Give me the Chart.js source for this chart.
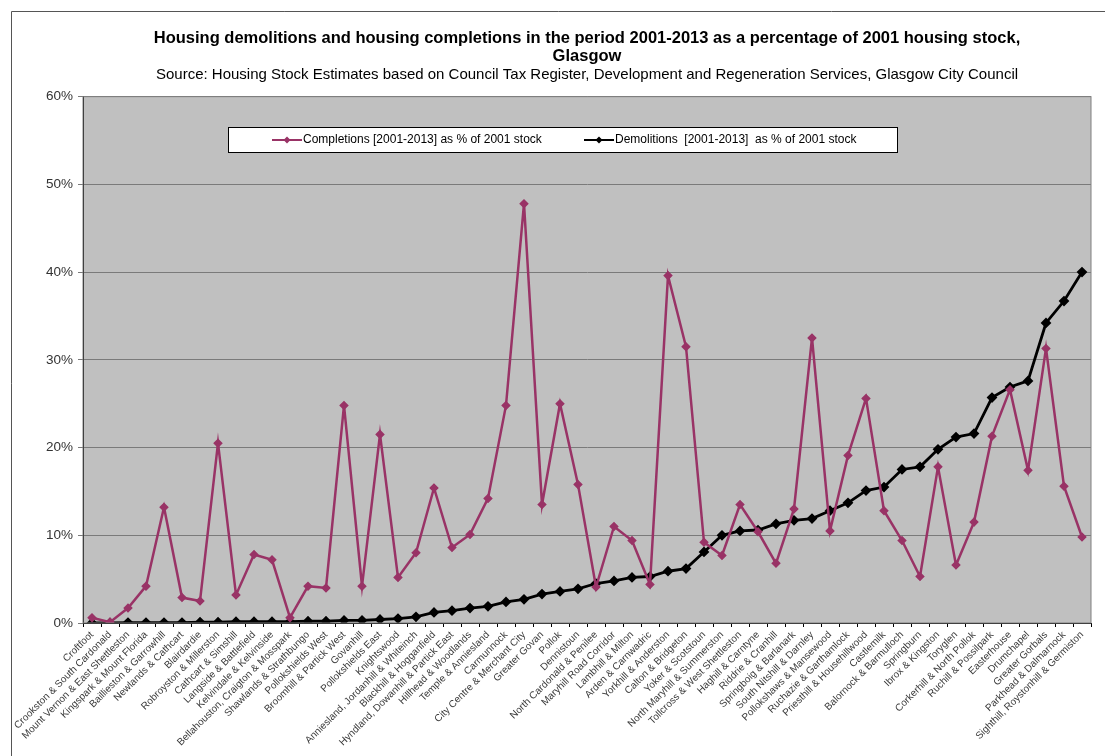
<!DOCTYPE html>
<html lang="en">
<head>
<meta charset="UTF-8">
<title>Housing demolitions and completions, Glasgow</title>
<script src="https://cdnjs.cloudflare.com/ajax/libs/Chart.js/4.4.1/chart.umd.min.js"></script>
<style>
  html, body { margin: 0; padding: 0; background: #fff; }
  #wrap { width: 1105px; height: 756px; position: relative; }
</style>
</head>
<body>
<div id="wrap"><canvas id="myChart"></canvas></div>
<script>
// neighbourhoods, in the order shown on the x axis
const areas = [
  'Croftfoot', 'Crookston & South Cardonald', 'Mount Vernon & East Shettleston',
  'Kingspark & Mount Florida', 'Baillieston & Garrowhill', 'Newlands & Cathcart',
  'Blairdardie', 'Robroyston & Millerston', 'Cathcart & Simshill',
  'Langside & Battlefield', 'Kelvindale & Kelvinside', 'Bellahouston, Craigton & Mosspark',
  'Shawlands & Strathbungo', 'Pollokshields West', 'Broomhill & Partick West',
  'Govanhill', 'Pollokshields East', 'Knightswood',
  'Anniesland, Jordanhill & Whiteinch', 'Blackhill & Hogganfield', 'Hyndland, Dowanhill & Partick East',
  'Hillhead & Woodlands', 'Temple & Anniesland', 'Carmunnock',
  'City Centre & Merchant City', 'Greater Govan', 'Pollok',
  'Dennistoun', 'North Cardonald & Penilee', 'Maryhill Road Corridor',
  'Lambhill & Milton', 'Arden & Carnwadric', 'Yorkhill & Anderston',
  'Calton & Bridgeton', 'Yoker & Scotstoun', 'North Maryhill & Summerston',
  'Tollcross & West Shettleston', 'Haghill & Carntyne', 'Riddrie & Cranhill',
  'Springboig & Barlanark', 'South Nitshill & Darnley', 'Pollokshaws & Mansewood',
  'Ruchazie & Garthamlock', 'Priesthill & Househillwood', 'Castlemilk',
  'Balornock & Barmulloch', 'Springburn', 'Ibrox & Kingston',
  'Toryglen', 'Corkerhill & North Pollok', 'Ruchill & Possilpark',
  'Easterhouse', 'Drumchapel', 'Greater Gorbals',
  'Parkhead & Dalmarnock', 'Sighthill, Roystonhill & Germiston'
];

// % of 2001 stock
const completions = [
  0.6, 0.1, 1.7, 4.2, 13.2, 2.9, 2.5, 20.5, 3.2, 7.8, 7.2, 0.6, 4.2, 4.0,
  24.8, 4.2, 21.5, 5.2, 8.0, 15.4, 8.6, 10.1, 14.2, 24.8, 47.8, 13.5, 25.0, 15.8,
  4.1, 11.0, 9.4, 4.4, 39.6, 31.5, 9.2, 7.7, 13.5, 10.4, 6.8, 13.0, 32.5, 10.5,
  19.1, 25.6, 12.8, 9.4, 5.3, 17.8, 6.6, 11.5, 21.3, 26.6, 17.4, 31.3, 15.6, 9.8
];
const demolitions = [
  0.0, 0.0, 0.05, 0.05, 0.05, 0.05, 0.1, 0.1, 0.15, 0.15, 0.15, 0.15, 0.2, 0.2,
  0.3, 0.3, 0.4, 0.5, 0.7, 1.2, 1.4, 1.7, 1.9, 2.4, 2.7, 3.3, 3.6, 3.9,
  4.5, 4.8, 5.2, 5.3, 5.9, 6.2, 8.1, 10.0, 10.5, 10.6, 11.3, 11.7, 11.9, 12.8,
  13.7, 15.1, 15.5, 17.5, 17.8, 19.8, 21.2, 21.6, 25.7, 26.9, 27.6, 34.2, 36.7, 40.0
];

const titleLines = ['Housing demolitions and housing completions in the period 2001-2013 as a percentage of 2001 housing stock,', 'Glasgow'];
const sourceText = 'Source: Housing Stock Estimates based on Council Tax Register, Development and Regeneration Services, Glasgow City Council';
const completionsLabel = 'Completions [2001-2013] as % of 2001 stock';
const demolitionsLabel = 'Demolitions  [2001-2013]  as % of 2001 stock';

const plum = '#993366';
const font = '"Liberation Sans", Arial, sans-serif';

// grey plot background + outer frame (cut off at right/bottom in the original)
const plotBg = {
  id: 'plotBg',
  beforeDraw: (chart) => {
    const {ctx, chartArea: a} = chart;
    ctx.save();
    ctx.fillStyle = '#c0c0c0';
    ctx.fillRect(a.left, a.top, a.right - a.left, a.bottom - a.top);
    ctx.strokeStyle = '#555';
    ctx.lineWidth = 1;
    ctx.beginPath();
    ctx.moveTo(11.5, chart.height);
    ctx.lineTo(11.5, 11.5);
    ctx.lineTo(chart.width, 11.5);
    ctx.stroke();
    ctx.restore();
  },
  afterDatasetsDraw: (chart) => {
    const {ctx, chartArea: a} = chart;
    ctx.save();
    ctx.strokeStyle = '#808080';
    ctx.lineWidth = 1;
    ctx.strokeRect(a.left, a.top, a.right - a.left, a.bottom - a.top);
    ctx.restore();
  }
};

// legend box sitting inside the plot, like the original
const boxLegend = {
  id: 'boxLegend',
  afterDraw: (chart) => {
    const {ctx} = chart;
    const x0 = 228, y0 = 127, w = 669, h = 25;
    ctx.save();
    ctx.fillStyle = '#fff';
    ctx.fillRect(x0, y0, w, h);
    ctx.strokeStyle = '#000';
    ctx.lineWidth = 1;
    ctx.strokeRect(x0 + 0.5, y0 + 0.5, w, h);
    ctx.font = '12px ' + font;
    ctx.textBaseline = 'middle';
    const cy = y0 + h / 2 + 0.5;
    const items = [[272, chart.data.datasets[0]], [584, chart.data.datasets[1]]];
    items.forEach(([lx, ds]) => {
      ctx.strokeStyle = ds.borderColor;
      ctx.lineWidth = 2;
      ctx.beginPath();
      ctx.moveTo(lx, cy);
      ctx.lineTo(lx + 30, cy);
      ctx.stroke();
      ctx.fillStyle = ds.borderColor;
      ctx.beginPath();
      ctx.moveTo(lx + 15, cy - 3.5);
      ctx.lineTo(lx + 18.5, cy);
      ctx.lineTo(lx + 15, cy + 3.5);
      ctx.lineTo(lx + 11.5, cy);
      ctx.closePath();
      ctx.fill();
      ctx.fillStyle = '#000';
      ctx.fillText(ds.label, lx + 31, cy);
    });
    ctx.restore();
  }
};

const ctx = document.getElementById('myChart').getContext('2d');
const myChart = new Chart(ctx, {
  type: 'line',
  data: {
    labels: areas,
    datasets: [
      {
        label: completionsLabel,
        data: completions,
        borderColor: plum,
        backgroundColor: plum,
        borderWidth: 2.5,
        pointStyle: 'rectRot',
        pointRadius: 3,
        tension: 0
      },
      {
        label: demolitionsLabel,
        data: demolitions,
        borderColor: '#000',
        backgroundColor: '#000',
        borderWidth: 2.8,
        pointStyle: 'rectRot',
        pointRadius: 3.4,
        tension: 0
      }
    ]
  },
  plugins: [plotBg, boxLegend],
  options: {
    responsive: true,
    maintainAspectRatio: false,
    animation: false,
    layout: {padding: {left: 4, right: 14, top: 0, bottom: 0}},
    scales: {
      x: {
        offset: true,
        afterFit: (s) => { s.height = 133; },
        border: {color: '#000'},
        grid: {offset: true, drawOnChartArea: false, drawTicks: true, tickLength: 4, color: '#000'},
        ticks: {
          autoSkip: false, maxRotation: 45, minRotation: 45, padding: 2,
          color: '#3a3a3a',
          font: {family: font, size: 10}
        }
      },
      y: {
        min: 0, max: 60,
        afterFit: (s) => { s.width = 79; },
        border: {color: '#000'},
        grid: {color: '#7a7a7a', tickLength: 5},
        ticks: {
          stepSize: 10, padding: 5, color: '#333',
          font: {family: font, size: 13.5},
          callback: (v) => v + '%'
        }
      }
    },
    plugins: {
      legend: {display: false},
      tooltip: {enabled: false},
      title: {
        display: true,
        fullSize: false,
        text: titleLines,
        color: '#000',
        font: {family: font, size: 16.5, weight: 'bold', lineHeight: 1.05},
        padding: {top: 30, bottom: 0}
      },
      subtitle: {
        display: true,
        fullSize: false,
        text: sourceText,
        color: '#000',
        font: {family: font, size: 15, lineHeight: 1.2},
        padding: {top: 1, bottom: 13}
      }
    }
  }
});
</script>
</body>
</html>
